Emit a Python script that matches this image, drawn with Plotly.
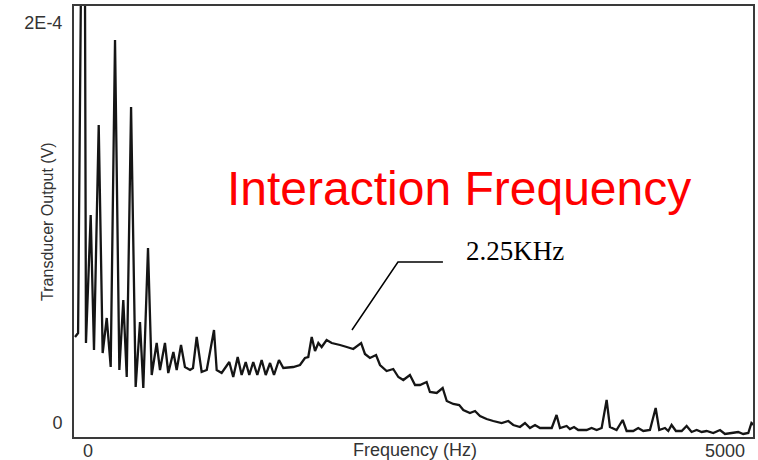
import plotly.graph_objects as go

# spectrum: frequency (Hz) and transducer output (uV)
freq_hz = [
    -102, -78, -55, -24, -16, 21, 47, 84, 115, 147, 178, 212, 246, 277, 304, 338,
    374, 408, 434, 471, 500, 539, 565, 604, 630, 670, 696, 730, 761, 801, 824, 853,
    892, 932, 989, 1010, 1049, 1109, 1140, 1175, 1206, 1238, 1266, 1297, 1329, 1363,
    1395, 1429, 1460, 1499, 1533, 1611, 1664, 1703, 1729, 1756, 1782, 1808, 1834,
    1873, 1913, 1952, 1978, 2031, 2082, 2144, 2174, 2213, 2261, 2292, 2344, 2396,
    2436, 2475, 2527, 2567, 2606, 2658, 2684, 2737, 2784, 2816, 2867, 2914, 2946,
    2998, 3038, 3077, 3129, 3181, 3247, 3299, 3338, 3391, 3430, 3469, 3509, 3548,
    3587, 3640, 3678, 3705, 3757, 3783, 3815, 3848, 3914, 3953, 3993, 4032, 4071,
    4097, 4149, 4197, 4228, 4280, 4319, 4359, 4411, 4456, 4484, 4529, 4555, 4581,
    4615, 4660, 4699, 4738, 4778, 4817, 4856, 4908, 4961, 5000, 5052, 5104, 5143,
    5183, 5208, 5227,
]
output_uv = [
    43, 45, 221, 221, 40, 104, 36.5, 149, 35, 52.5, 28, 191.5, 26.5, 61.5, 23, 158,
    18, 50.5, 17.5, 87.5, 24, 40, 26.5, 40, 25, 35.5, 26.5, 39, 28, 26.5, 27.5, 43,
    25.5, 26.5, 46.5, 26.5, 25, 30.5, 23, 33, 24, 30.5, 24, 30.5, 24, 31.5,
    24, 30, 24, 31.5, 27.5, 28, 29, 32.5, 33, 43, 36, 40, 38,
    41.5, 40, 39.5, 39, 38, 37, 40, 34.5, 32.5, 34, 29, 26, 27,
    23, 21.5, 24, 19, 19, 20.5, 15.5, 15, 17.5, 11, 9.5, 9, 6.5,
    5, 6, 3.5, 2, 1, 0, 1, -1, -2, 0, -2.5, -1, -2.5,
    -2.5, -2.5, 4, -2.5, -1.5, -3, -2, -3.5, -3.5, -2.5, -3.5, -2.5, 11.5,
    -2, -3.5, 1.5, -4, -4, -2.5, -4, -3.5, 7.5, -3.5, -2.5, -4, -1,
    -4, -4, -1.5, -4.5, -3.5, -4.5, -4, -5, -3.5, -5.5, -5, -4.5, -5.5,
    -5, 0, -1,
]

# leader line for the 2.25KHz callout
leader_x = [2072, 2433, 2786]
leader_y = [46.5, 80.5, 80.5]

x_tick_vals = [0, 5000]
x_tick_text = ["0", "5000"]
y_tick_vals = [0, 200]
y_tick_text = ["0", "2E-4"]

fig = go.Figure()
fig.add_trace(go.Scatter(x=freq_hz, y=output_uv, mode="lines",
                         line=dict(color="#151515", width=2.3), hoverinfo="skip"))
fig.add_trace(go.Scatter(x=leader_x, y=leader_y, mode="lines",
                         line=dict(color="black", width=1.5), hoverinfo="skip"))

axis_font = dict(family="Liberation Sans, Arial, sans-serif", size=18, color="#333")

fig.update_layout(
    width=758, height=460,
    margin=dict(l=74, r=5, t=6, b=23),
    paper_bgcolor="white", plot_bgcolor="white",
    showlegend=False,
    xaxis=dict(range=[-110, 5220], tickvals=x_tick_vals, ticktext=x_tick_text,
               showgrid=False, zeroline=False, ticks="", tickfont=axis_font,
               ticklabelstandoff=-4, automargin=False,
               showline=True, mirror=True, linecolor="#3a3a3a", linewidth=2),
    yaxis=dict(range=[-7, 208.5], tickvals=y_tick_vals, ticktext=y_tick_text,
               showgrid=False, zeroline=False, ticks="", tickfont=axis_font,
               ticklabelstandoff=6, automargin=False,
               showline=True, mirror=True, linecolor="#3a3a3a", linewidth=2),
    annotations=[
        dict(text="Frequency (Hz)", xref="paper", yref="paper", x=0.502, y=-0.03,
             xanchor="center", yanchor="middle", showarrow=False, font=axis_font),
        dict(text="Transducer Output (V)", xref="paper", yref="paper", x=-0.04, y=0.501,
             xanchor="center", yanchor="middle", textangle=-90, showarrow=False,
             font=dict(family="Liberation Sans, Arial, sans-serif", size=16, color="#333")),
        dict(text="Interaction Frequency", x=2912, y=117.5, xanchor="center", yanchor="middle",
             showarrow=False,
             font=dict(family="Liberation Sans, Arial, sans-serif", size=48, color="#ff0000")),
        dict(text="2.25KHz", x=3352, y=86, xanchor="center", yanchor="middle",
             showarrow=False,
             font=dict(family="Liberation Serif, Times New Roman, serif", size=27, color="black")),
    ],
)

# drop the browser's default 8px body margin so the figure fills the window
fig.write_html("out.html", config={"displayModeBar": False},
               post_script="document.body.style.margin='0';")
